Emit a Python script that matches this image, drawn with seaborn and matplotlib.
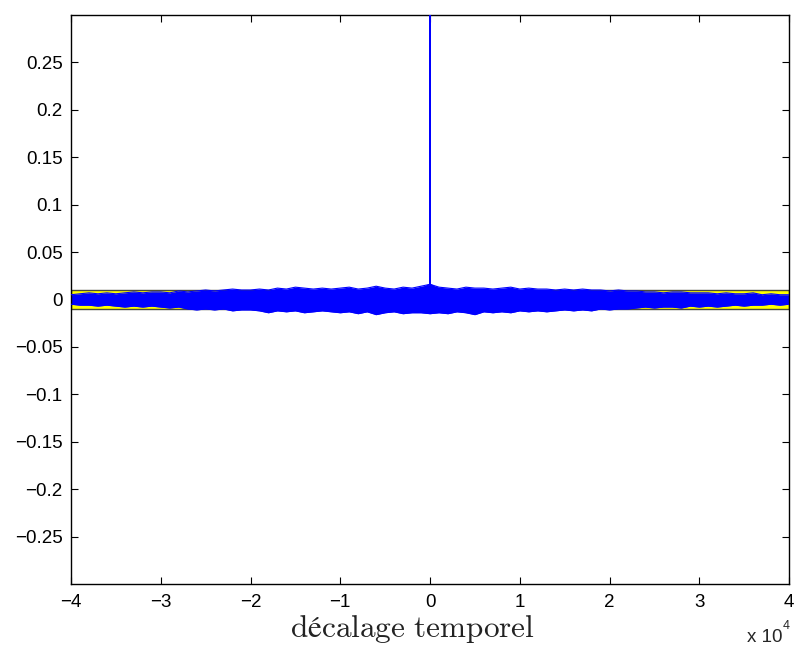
import numpy as np
import pandas as pd
import matplotlib
matplotlib.use("Agg")
import matplotlib.pyplot as plt
import seaborn as sns

# lags (every 1000 samples) and envelope of the noise band
lags = np.arange(-40000, 40001, 1000)
upper = [5, 6, 7, 6, 7, 6, 7, 8, 7, 8,
         8, 7, 9, 8, 9, 10, 9, 10, 11, 10,
         10, 11, 10, 12, 11, 13, 12, 11, 12, 11,
         12, 13, 11, 12, 14, 12, 11, 13, 12, 14,
         16,
         13, 12, 11, 13, 12, 12, 11, 12, 13, 11,
         12, 11, 11, 10, 11, 10, 11, 10, 10, 9,
         10, 9, 9, 8, 8, 7, 8, 8, 7, 7,
         7, 6, 7, 6, 6, 7, 5, 6, 5, 5]
lower = [5, 6, 6, 7, 6, 7, 8, 7, 8, 7,
         8, 9, 8, 10, 11, 10, 11, 10, 12, 11,
         11, 12, 14, 12, 13, 12, 14, 13, 12, 13,
         14, 13, 15, 13, 16, 14, 13, 15, 14, 14,
         15,
         14, 15, 13, 14, 16, 13, 14, 13, 14, 12,
         13, 12, 13, 12, 11, 12, 11, 12, 10, 11,
         10, 10, 9, 8, 9, 8, 8, 9, 7, 8,
         7, 8, 7, 6, 7, 6, 6, 5, 6, 5]
upper = np.array(upper) * 1e-3
lower = -np.array(lower) * 1e-3

# peak at zero lag
peak_lags = [-400, -1, 0, 1, 400]
peak_vals = [0.014, 0.016, 0.30, 0.016, 0.014]

conf = 0.0102  # confidence bound
xticks = [-40000, -30000, -20000, -10000, 0, 10000, 20000, 30000, 40000]
xticklabels = ["\u22124", "\u22123", "\u22122", "\u22121", "0", "1", "2", "3", "4"]
yticks = [-0.25, -0.2, -0.15, -0.1, -0.05, 0, 0.05, 0.1, 0.15, 0.2, 0.25]
yticklabels = ["\u22120.25", "\u22120.2", "\u22120.15", "\u22120.1", "\u22120.05", "0",
               "0.05", "0.1", "0.15", "0.2", "0.25"]

sns.set_theme(style="white")
plt.rcParams["font.family"] = ["Liberation Sans", "DejaVu Sans"]

fig = plt.figure(figsize=(7.95, 6.46), dpi=100)
ax = fig.add_axes([0.0893, 0.096, 0.9032, 0.8808])

ax.axhspan(-conf, conf, facecolor="#ffff00", edgecolor="#4a4a3a", lw=1.0, zorder=1)

df = pd.DataFrame({"lag": lags, "upper": upper, "lower": lower})
ax.fill_between(df["lag"], df["lower"], df["upper"], color="#0000ff", lw=0, zorder=2)
sns.lineplot(data=df, x="lag", y="upper", color="#0000ff", lw=0.8, ax=ax, zorder=3)
sns.lineplot(data=df, x="lag", y="lower", color="#0000ff", lw=0.8, ax=ax, zorder=3)
sns.lineplot(x=peak_lags, y=peak_vals, color="#0000ff", lw=1.0, ax=ax, zorder=3)

ax.set_xlim(-40000, 40000)
ax.set_ylim(-0.3, 0.3)
ax.set_xticks(xticks)
ax.set_xticklabels(xticklabels)
ax.set_yticks(yticks)
ax.set_yticklabels(yticklabels)
ax.tick_params(direction="in", length=5, width=0.8, color="black",
               labelsize=13.5, labelcolor="black",
               bottom=True, left=True, top=True, right=True)
ax.tick_params(axis="x", pad=7)
ax.tick_params(axis="y", pad=6)
for s in ax.spines.values():
    s.set_visible(True)
    s.set_color("black")
    s.set_linewidth(1.0)

ax.set_ylabel("")
ax.set_xlabel(r"$\mathrm{décalage\ temporel}$", fontsize=22.5,
              math_fontfamily="cm", color="#222222")
ax.xaxis.set_label_coords(0.475, -0.051)
fig.text(0.984, 0.0, "x 10", fontsize=13.5, ha="right", va="bottom")
fig.text(0.985, 0.022, "4", fontsize=9, ha="left", va="bottom")

fig.savefig("out.png", dpi=100, facecolor="white")
